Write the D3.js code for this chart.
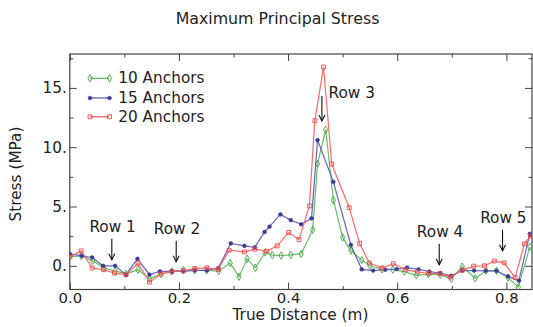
<!DOCTYPE html>
<html><head><meta charset="utf-8">
<script src="https://cdn.jsdelivr.net/npm/d3@7"></script>
<style>
body{margin:0;background:#fff}
text{font-family:"DejaVu Sans",Verdana,sans-serif;fill:#222}
</style>
</head><body><svg id="c" width="533" height="327"></svg>
<script>
// ---- data ----
const seriesNames = ["10 Anchors", "15 Anchors", "20 Anchors"];
const x10 = [0.000,0.021,0.042,0.062,0.083,0.103,0.125,0.146,0.167,0.187,0.208,0.229,0.251,0.273,0.294,0.310,0.325,0.340,0.358,0.371,0.387,0.405,0.424,0.445,0.454,0.469,0.483,0.500,0.515,0.535,0.550,0.572,0.592,0.613,0.635,0.657,0.679,0.699,0.719,0.743,0.763,0.782,0.803,0.822,0.843];
const y10 = [0.75,0.84,0.42,-0.17,-0.44,-0.67,-0.34,-1.09,-0.70,-0.48,-0.38,-0.38,-0.39,-0.44,0.23,-0.92,0.59,-0.17,1.13,0.90,0.86,0.92,1.00,3.02,8.60,11.48,5.53,2.39,1.27,0.48,0.00,-0.30,-0.33,-0.50,-0.80,-0.70,-0.75,-1.10,-0.08,-1.05,-0.42,-0.42,-1.00,-1.80,1.60];
const x15 = [0.000,0.022,0.041,0.061,0.083,0.103,0.124,0.146,0.165,0.187,0.208,0.229,0.251,0.272,0.295,0.320,0.339,0.357,0.366,0.386,0.405,0.424,0.443,0.454,0.483,0.515,0.535,0.556,0.578,0.599,0.618,0.639,0.659,0.679,0.699,0.719,0.741,0.762,0.782,0.803,0.823,0.843];
const y15 = [1.00,0.84,0.70,0.00,0.00,-0.75,0.59,-0.75,-0.48,-0.48,-0.48,-0.39,-0.39,-0.20,1.89,1.68,1.55,2.85,3.30,4.33,3.85,3.50,4.00,10.60,7.08,1.76,-0.30,-0.40,-0.33,-0.28,-0.15,-0.30,-0.50,-0.62,-0.84,-0.40,-0.40,-0.42,-0.42,-0.90,-1.25,2.70];
const x20 = [0.000,0.021,0.041,0.062,0.082,0.103,0.125,0.146,0.167,0.187,0.208,0.229,0.251,0.272,0.292,0.320,0.339,0.361,0.380,0.401,0.420,0.439,0.449,0.465,0.480,0.512,0.531,0.549,0.572,0.593,0.615,0.637,0.658,0.678,0.697,0.719,0.740,0.760,0.778,0.796,0.816,0.833,0.844];
const y20 = [0.75,1.26,-0.19,-0.33,-0.61,-0.75,0.21,-1.38,-0.69,-0.48,-0.40,-0.23,-0.17,-0.30,1.31,1.17,1.40,1.22,1.68,2.81,2.21,5.05,12.24,16.76,8.58,4.90,1.87,0.23,-0.19,0.18,-0.33,-0.52,-0.65,-0.67,-0.95,-0.38,-0.03,0.00,0.40,0.25,-1.00,1.85,2.50];

const xMajorTicks = [0, 0.2, 0.4, 0.6, 0.8];
const xTickLabels = ["0.0", "0.2", "0.4", "0.6", "0.8"];
const xMinorTicks = [0.1, 0.3, 0.5, 0.7];
const yMajorTicks = [0, 5, 10, 15];
const yTickLabels = ["0.", "5.", "10.", "15."];
const yMinorTicks = [2.5, 7.5, 12.5, 17.5];

const rowLabels = ["Row 1", "Row 2", "Row 3", "Row 4", "Row 5"];
const rowX = [0.077, 0.195, 0.462, 0.677, 0.793];
const rowTipY = [0.5, 0.35, 12.2, 0.08, 1.26];

// ---- layout ----
const L = 69.8, R = 532, T = 54, B = 289.5;
const svg = d3.select("#c");
const x = d3.scaleLinear().domain([0, 0.847]).range([L, R]);
const y = d3.scaleLinear().domain([-2.0, 17.86]).range([B, T]);
const colors = ["#5cb85c", "#5a5ab8", "#ff5c5c"];
const mcolors = ["#44a444", "#3a3a95", "#f24a4a"];
const FS = "15.3px";

// title
svg.append("text").attr("x", 277.5).attr("y", 18).attr("text-anchor", "middle")
  .attr("dominant-baseline", "central").style("font-size", "15.8px").text("Maximum Principal Stress");

// axes
function styleAxis(g){ g.select(".domain").remove(); g.selectAll(".tick line").attr("stroke", "#444"); g.selectAll("text").style("font-size", FS).attr("fill", "#222"); }
const gx = svg.append("g").attr("transform", `translate(0,${B})`)
  .call(d3.axisBottom(x).tickValues(xMajorTicks).tickFormat((d, i) => xTickLabels[i]).tickSizeInner(-7).tickSizeOuter(0).tickPadding(3));
styleAxis(gx);
gx.selectAll("text").style("font-size", "14.8px");
svg.append("g").attr("transform", `translate(0,${B})`).call(d3.axisBottom(x).tickValues(xMinorTicks).tickFormat("").tickSizeInner(-3.5).tickSizeOuter(0)).call(styleAxis);
svg.append("g").attr("transform", `translate(0,${T})`).call(d3.axisTop(x).tickValues(xMajorTicks).tickFormat("").tickSizeInner(-7).tickSizeOuter(0)).call(styleAxis);
svg.append("g").attr("transform", `translate(0,${T})`).call(d3.axisTop(x).tickValues(xMinorTicks).tickFormat("").tickSizeInner(-3.5).tickSizeOuter(0)).call(styleAxis);
const gy = svg.append("g").attr("transform", `translate(${L},0)`)
  .call(d3.axisLeft(y).tickValues(yMajorTicks).tickFormat((d, i) => yTickLabels[i]).tickSizeInner(-7).tickSizeOuter(0).tickPadding(3));
styleAxis(gy);
svg.append("g").attr("transform", `translate(${L},0)`).call(d3.axisLeft(y).tickValues(yMinorTicks).tickFormat("").tickSizeInner(-3.5).tickSizeOuter(0)).call(styleAxis);
svg.append("g").attr("transform", `translate(${R},0)`).call(d3.axisRight(y).tickValues(yMajorTicks).tickFormat("").tickSizeInner(-7).tickSizeOuter(0)).call(styleAxis);
svg.append("g").attr("transform", `translate(${R},0)`).call(d3.axisRight(y).tickValues(yMinorTicks).tickFormat("").tickSizeInner(-3.5).tickSizeOuter(0)).call(styleAxis);

// frame
svg.append("rect").attr("x", L).attr("y", T).attr("width", R - L).attr("height", B - T)
  .attr("fill", "none").attr("stroke", "#444").attr("stroke-width", 1.2);

// axis titles
svg.append("text").attr("x", 300.5).attr("y", 315.2).attr("text-anchor", "middle")
  .attr("dominant-baseline", "central").style("font-size", FS).text("True Distance (m)");
svg.append("text").attr("transform", "translate(16,174) rotate(-90)").attr("text-anchor", "middle")
  .attr("dominant-baseline", "central").style("font-size", FS).text("Stress (MPa)");

// series
svg.append("clipPath").attr("id", "pc").append("rect").attr("x", L).attr("y", T).attr("width", R - L).attr("height", B - T);
const series = [[x10, y10], [x15, y15], [x20, y20]];
const symbols = [d3.symbol(d3.symbolDiamond, 16), d3.symbol(d3.symbolCircle, 11), d3.symbol(d3.symbolSquare, 15)];
const plot = svg.append("g").attr("clip-path", "url(#pc)");
series.forEach(([xs, ys], k) => {
  const pts = xs.map((v, i) => [v, ys[i]]);
  plot.append("path").datum(pts)
    .attr("d", d3.line().x(d => x(d[0])).y(d => y(d[1])))
    .attr("fill", "none").attr("stroke", colors[k]).attr("stroke-width", 1.25).attr("stroke-opacity", 0.9);
  plot.selectAll(null).data(pts).enter().append("path")
    .attr("transform", d => `translate(${x(d[0])},${y(d[1])})`)
    .attr("d", symbols[k]())
    .attr("fill", k === 1 ? mcolors[k] : "none")
    .attr("stroke", mcolors[k]).attr("stroke-width", k === 1 ? 0.6 : 0.9);
});

// legend
const legY = [78.3, 98.0, 116.8];
seriesNames.forEach((name, k) => {
  const g = svg.append("g");
  g.append("line").attr("x1", 90).attr("x2", 109.5).attr("y1", legY[k]).attr("y2", legY[k])
    .attr("stroke", colors[k]).attr("stroke-width", 1.25);
  [90, 109.5].forEach(px => g.append("path").attr("transform", `translate(${px},${legY[k]})`)
    .attr("d", symbols[k]()).attr("fill", k === 1 ? mcolors[k] : "none")
    .attr("stroke", mcolors[k]).attr("stroke-width", k === 1 ? 0.6 : 0.9));
  g.append("text").attr("x", 118.3).attr("y", legY[k]).attr("dominant-baseline", "central")
    .style("font-size", FS).text(name);
});

// row annotations
rowLabels.forEach((lab, i) => {
  const ax = x(rowX[i]), tip = y(rowTipY[i]);
  const len = i === 2 ? 25 : 21;
  const tail = tip - len;
  const g = svg.append("g");
  g.append("line").attr("x1", ax).attr("x2", ax).attr("y1", tail).attr("y2", tip).attr("stroke", "#111").attr("stroke-width", 1.1);
  g.append("path").attr("d", `M${ax - 3},${tip - 6}L${ax},${tip}L${ax + 3},${tip - 6}`)
    .attr("fill", "none").attr("stroke", "#111").attr("stroke-width", 1.1);
  if (i === 2) {
    g.append("text").attr("x", ax + 6.6).attr("y", tail - 3.4).attr("dominant-baseline", "central")
      .style("font-size", FS).text(lab);
  } else {
    g.append("text").attr("x", ax + 0.8).attr("y", tail - 11.5).attr("text-anchor", "middle")
      .attr("dominant-baseline", "central").style("font-size", FS).text(lab);
  }
});
</script>
</body></html>
